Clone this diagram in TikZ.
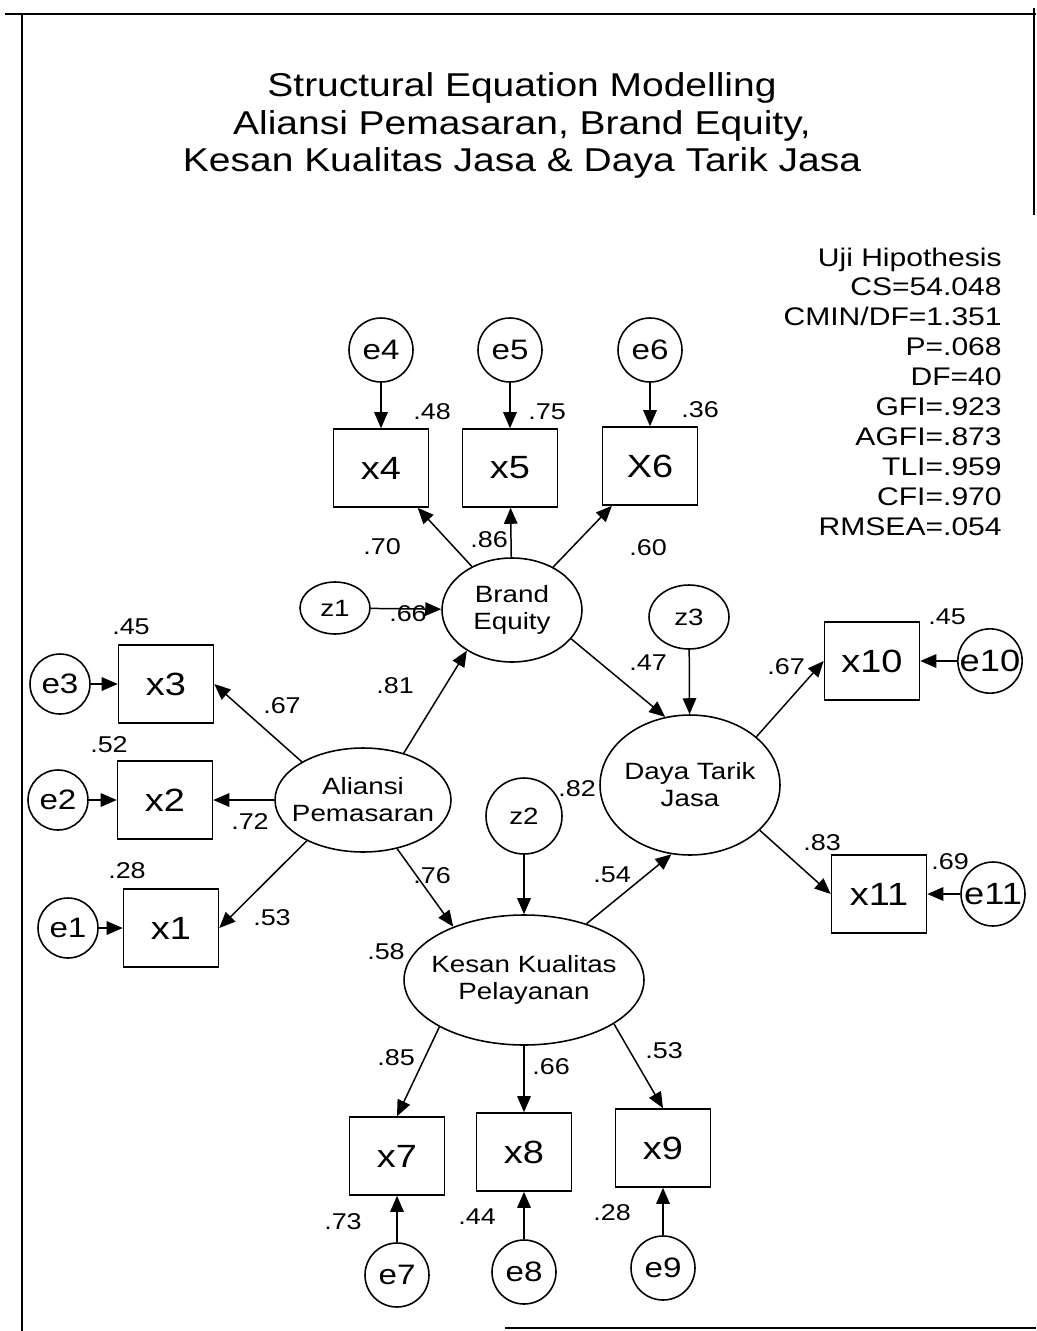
\documentclass[tikz,border=0pt]{standalone}
\usepackage{fontspec}
\setmainfont{Liberation Sans}[FakeStretch=1.18]
\usetikzlibrary{arrows.meta,shapes.geometric}
\tikzset{
 lat/.style={draw, ellipse, line width=0.9pt, inner sep=0pt},
 lattext/.style={inner sep=0pt, align=center, font=\fontsize{13.4}{15.3}\selectfont},
 obs/.style={draw, rectangle, line width=0.9pt, minimum width=1.9cm, minimum height=1.56cm, inner sep=0pt, font=\fontsize{18.3}{20}\selectfont},
 err/.style={draw, circle, line width=0.9pt, inner sep=0pt, minimum size=1.28cm, font=\fontsize{16}{18}\selectfont},
 dist/.style={draw, ellipse, line width=0.9pt, inner sep=0pt, font=\fontsize{13.4}{15}\selectfont},
 lbl/.style={inner sep=0pt, font=\fontsize{13}{15}\selectfont},
 arr/.style={-{Triangle[length=0.32cm,width=0.27cm]}, line width=0.85pt},
 frame/.style={line width=1.2pt},
}
\begin{document}
\begin{tikzpicture}[x=0.02cm, y=-0.02cm]
\useasboundingbox[fill=white] (0,0) rectangle (1036,1331);
% frame
\draw[frame] (5,14) -- (1036,14);
\draw[frame] (22,14) -- (22,1331);
\draw[frame] (1034,8) -- (1034,215);
\draw[frame] (505,1328) -- (1036,1328);
% title
\node[anchor=base, inner sep=0pt, font=\fontsize{18.8}{21.5}\selectfont] (t1) at (522,97) {Structural Equation Modelling};
\node[anchor=base, inner sep=0pt, font=\fontsize{18.8}{21.5}\selectfont] (t2) at (522,135) {Aliansi Pemasaran, Brand Equity,};
\node[anchor=base, inner sep=0pt, font=\fontsize{18.8}{21.5}\selectfont] (t3) at (522,172) {Kesan Kualitas Jasa \& Daya Tarik Jasa};
% stats
\foreach \t [count=\i from 0] in {Uji Hipothesis, CS=54.048, CMIN/DF=1.351, P=.068, DF=40, GFI=.923, AGFI=.873, TLI=.959, CFI=.970, RMSEA=.054}
  \node[anchor=base east, inner sep=0pt, font=\fontsize{14.5}{17}\selectfont] (s\i) at (1002,{266+29.9*\i}) {\t};
% latent
\node[lat, minimum width=2.8cm, minimum height=2.08cm] (be) at (512,610) {};
\node[lattext] (bet) at (be.center) {Brand\\Equity};
\node[lat, minimum width=3.52cm, minimum height=2.08cm] (al) at (363,800) {};
\node[lattext] (alt) at (al.center) {Aliansi\\Pemasaran};
\node[lat, minimum width=3.6cm, minimum height=2.8cm] (dt) at (690,785) {};
\node[lattext] (dtt) at (dt.center) {Daya Tarik\\Jasa};
\node[lat, minimum width=4.8cm, minimum height=2.6cm] (ke) at (524,980) {};
\node[lattext] (ket) at (ke.center) {Kesan Kualitas\\Pelayanan};
% disturbances
\node[dist, minimum width=1.4cm, minimum height=1.04cm] (z1) at (335,608) {z1};
\node[dist, minimum width=1.52cm, minimum height=1.52cm] (z2) at (524,816) {z2};
\node[dist, minimum width=1.6cm, minimum height=1.28cm] (z3) at (689,617) {z3};
% observed
\node[obs] (x4) at (381,468) {x4};
\node[obs] (x5) at (510,468) {x5};
\node[obs] (x6) at (650,466) {X6};
\node[obs] (x3) at (166,684) {x3};
\node[obs] (x2) at (165,800) {x2};
\node[obs] (x1) at (171,928) {x1};
\node[obs] (x10) at (872,661) {x10};
\node[obs] (x11) at (879,894) {x11};
\node[obs] (x7) at (397,1156) {x7};
\node[obs] (x8) at (524,1152) {x8};
\node[obs] (x9) at (663,1148) {x9};
% errors
\node[err] (e4) at (381,350) {e4};
\node[err] (e5) at (510,350) {e5};
\node[err] (e6) at (650,350) {e6};
\node[err, minimum size=1.2cm] (e3) at (60,684) {e3};
\node[err, minimum size=1.2cm] (e2) at (58,800) {e2};
\node[err, minimum size=1.2cm] (e1) at (68,928) {e1};
\node[err, font=\fontsize{17.5}{19}\selectfont] (e10) at (990,661) {e10};
\node[err, font=\fontsize{17.5}{19}\selectfont] (e11) at (993,894) {e11};
\node[err] (e7) at (397,1275) {e7};
\node[err] (e8) at (524,1272) {e8};
\node[err] (e9) at (663,1268) {e9};
% arrows
\draw[arr] (e4) -- (x4);
\draw[arr] (e5) -- (x5);
\draw[arr] (e6) -- (x6);
\draw[arr] (be) -- (x4);
\draw[arr] (be) -- (x5);
\draw[arr] (be) -- (x6);
\draw[arr] (z1) -- (be);
\draw[arr] (e3) -- (x3);
\draw[arr] (e2) -- (x2);
\draw[arr] (e1) -- (x1);
\draw[arr] (al.148) -- (x3.east);
\draw[arr] (al.west) -- (x2.east);
\draw[arr] (al.216) -- (x1.east);
\draw[arr] (al.49) -- (be.222);
\draw[arr] (al.305) -- (ke.143);
\draw[arr] (be.334) -- (dt.110);
\draw[arr] (z3) -- (dt);
\draw[arr] (z2) -- (ke);
\draw[arr] (ke.42) -- (dt.255);
\draw[arr] (dt.36) -- (x10.west);
\draw[arr] (dt.327) -- (x11.west);
\draw[arr] (e10) -- (x10);
\draw[arr] (e11) -- (x11);
\draw[arr] (ke.209) -- (x7.north);
\draw[arr] (ke) -- (x8);
\draw[arr] (ke.334) -- (x9.north);
\draw[arr] (e7) -- (x7);
\draw[arr] (e8) -- (x8);
\draw[arr] (e9) -- (x9);
% labels
\node[lbl] (l48) at (432,412) {.48};
\node[lbl] (l75) at (547,412) {.75};
\node[lbl] (l36) at (700,410) {.36};
\node[lbl] (l70) at (382,547) {.70};
\node[lbl] (l86) at (489,540) {.86};
\node[lbl] (l60) at (648,548) {.60};
\node[lbl] (l66a) at (408,614) {.66};
\node[lbl] (l47) at (648,663) {.47};
\node[lbl] (l45a) at (131,627) {.45};
\node[lbl] (l67a) at (282,706) {.67};
\node[lbl] (l81) at (395,686) {.81};
\node[lbl] (l52) at (109,745) {.52};
\node[lbl] (l72) at (250,822) {.72};
\node[lbl] (l28a) at (127,871) {.28};
\node[lbl] (l53a) at (272,918) {.53};
\node[lbl] (l76) at (432,876) {.76};
\node[lbl] (l82) at (577,789) {.82};
\node[lbl] (l58) at (386,952) {.58};
\node[lbl] (l54) at (612,875) {.54};
\node[lbl] (l67b) at (786,667) {.67};
\node[lbl] (l45b) at (947,617) {.45};
\node[lbl] (l83) at (822,843) {.83};
\node[lbl] (l69) at (950,862) {.69};
\node[lbl] (l85) at (396,1058) {.85};
\node[lbl] (l66b) at (551,1067) {.66};
\node[lbl] (l53b) at (664,1051) {.53};
\node[lbl] (l73) at (343,1222) {.73};
\node[lbl] (l44) at (477,1217) {.44};
\node[lbl] (l28b) at (612,1213) {.28};
\end{tikzpicture}
\end{document}
